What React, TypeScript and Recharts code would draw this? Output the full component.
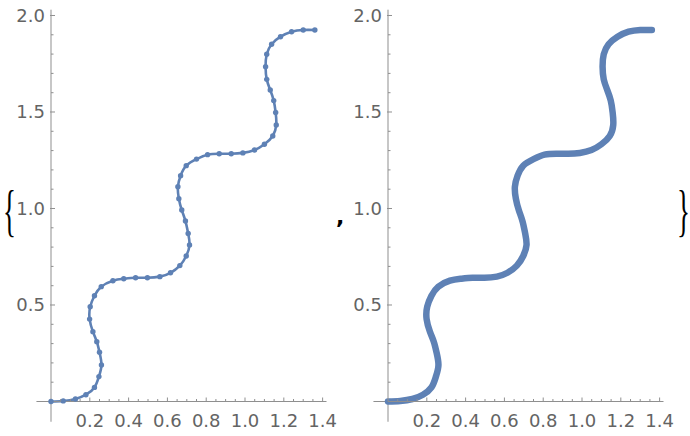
import React from 'react';
import { LineChart, Line, XAxis, YAxis, ReferenceLine } from 'recharts';

const curveX = [
  0, 0.063, 0.126, 0.18, 0.224, 0.247, 0.26, 0.25, 0.236, 0.216, 0.199, 0.202, 0.224, 0.259, 0.319,
  0.375, 0.436, 0.497, 0.561, 0.616, 0.664, 0.697, 0.714, 0.707, 0.693, 0.674, 0.659, 0.654, 0.668,
  0.697, 0.75, 0.807, 0.867, 0.929, 0.989, 1.049, 1.1, 1.143, 1.161, 1.158, 1.148, 1.13, 1.112,
  1.106, 1.112, 1.137, 1.183, 1.24, 1.3, 1.36,
];
const curveY = [
  0, 0.003, 0.013, 0.035, 0.073, 0.129, 0.189, 0.255, 0.31, 0.362, 0.427, 0.491, 0.548, 0.595, 0.626,
  0.636, 0.641, 0.641, 0.647, 0.667, 0.704, 0.754, 0.811, 0.871, 0.935, 0.992, 1.051, 1.113, 1.17,
  1.222, 1.256, 1.279, 1.284, 1.284, 1.288, 1.303, 1.333, 1.376, 1.433, 1.497, 1.559, 1.614, 1.669,
  1.735, 1.799, 1.851, 1.89, 1.916, 1.925, 1.925,
];

const xTicks = [
  0.05, 0.1, 0.15, 0.2, 0.25, 0.3, 0.35, 0.4, 0.45, 0.5, 0.55, 0.6, 0.65, 0.7, 0.75, 0.8, 0.85, 0.9,
  0.95, 1.0, 1.05, 1.1, 1.15, 1.2, 1.25, 1.3, 1.35, 1.4,
];
const xLabeled = [0.2, 0.4, 0.6, 0.8, 1.0, 1.2, 1.4];
const yTicks = [0.1, 0.2, 0.3, 0.4, 0.5, 0.6, 0.7, 0.8, 0.9, 1.0, 1.1, 1.2, 1.3, 1.4, 1.5, 1.6, 1.7, 1.8, 1.9, 2.0];
const yLabeled = [0.5, 1.0, 1.5, 2.0];

const data = curveX.map((x, i) => ({ x, y: curveY[i] }));

const BLUE = '#5e81b5';
const AXIS = '#8f8f8f';
const LABEL = '#646464';
const FONT = '"DejaVu Sans", "Liberation Sans", Arial, sans-serif';

const has = (list: number[], v: number) => list.some((t) => Math.abs(t - v) < 1e-6);

const XTick = (props: any) => {
  const { x, y, payload } = props;
  const major = has(xLabeled, payload.value);
  return (
    <g>
      <line x1={x} x2={x} y1={y} y2={y - (major ? 4 : 2.5)} stroke={AXIS} strokeWidth={1} />
      {major && (
        <text x={x} y={y + 25} textAnchor="middle" fill={LABEL} fontSize={18} fontFamily={FONT}>
          {payload.value.toFixed(1)}
        </text>
      )}
    </g>
  );
};

const YTick = (props: any) => {
  const { x, y, payload } = props;
  const major = has(yLabeled, payload.value);
  return (
    <g>
      <line x1={major ? x - 1 : x} x2={x + (major ? 4 : 2.5)} y1={y} y2={y} stroke={AXIS} strokeWidth={1} />
      {major && (
        <text x={x - 6} y={y + 6.5} textAnchor="end" fill={LABEL} fontSize={18} fontFamily={FONT}>
          {payload.value.toFixed(1)}
        </text>
      )}
    </g>
  );
};

const Panel = ({ dense }: { dense: boolean }) => (
  <LineChart
    width={340}
    height={436}
    data={data}
    margin={{ top: 9.7, right: 13.5, bottom: 4.5, left: 11 }}
  >
    <XAxis
      dataKey="x"
      type="number"
      domain={[0, 1.42]}
      ticks={xTicks}
      interval={0}
      height={30}
      tickSize={0}
      tickMargin={0}
      tickLine={false}
      axisLine={{ stroke: AXIS }}
      tick={<XTick />}
    />
    <YAxis
      type="number"
      domain={[0, 2.03]}
      ticks={yTicks}
      interval={0}
      width={40}
      tickSize={0}
      tickMargin={0}
      tickLine={false}
      axisLine={{ stroke: AXIS }}
      tick={<YTick />}
    />
    <ReferenceLine
      segment={[{ x: -0.075, y: 0 }, { x: 0, y: 0 }]}
      stroke={AXIS}
      ifOverflow="visible"
    />
    <ReferenceLine
      segment={[{ x: 0, y: -0.105 }, { x: 0, y: 0 }]}
      stroke={AXIS}
      ifOverflow="visible"
    />
    {dense ? (
      <Line
        dataKey="y"
        type="natural"
        stroke={BLUE}
        strokeWidth={6.5}
        strokeLinecap="round"
        strokeLinejoin="round"
        dot={false}
        isAnimationActive={false}
      />
    ) : (
      <Line
        dataKey="y"
        type="natural"
        stroke={BLUE}
        strokeWidth={2.6}
        dot={{ r: 2.7, fill: BLUE, stroke: 'none' }}
        isAnimationActive={false}
      />
    )}
  </LineChart>
);

export default function App() {
  return (
    <div style={{ position: 'absolute', left: 0, top: 0, width: 690, height: 436, background: '#fff', overflow: 'hidden' }}>
      <div style={{ position: 'absolute', left: 0, top: 0 }}>
        <Panel dense={false} />
      </div>
      <div style={{ position: 'absolute', left: 337, top: 0 }}>
        <Panel dense={true} />
      </div>
      <svg width={690} height={436} style={{ position: 'absolute', left: 0, top: 0, pointerEvents: 'none' }}>
        <text transform="translate(3,216) scale(0.9,1.9)" y={7.6} fontSize={30} fontFamily='"Liberation Serif", serif' fill="#000">
          {'{'}
        </text>
        <text x={336} y={224} fontSize={22} fontWeight="bold" fontFamily='"DejaVu Sans", sans-serif' fill="#000">
          ,
        </text>
        <text transform="translate(677,216) scale(0.9,1.9)" y={7.6} fontSize={30} fontFamily='"Liberation Serif", serif' fill="#000">
          {'}'}
        </text>
      </svg>
    </div>
  );
}
